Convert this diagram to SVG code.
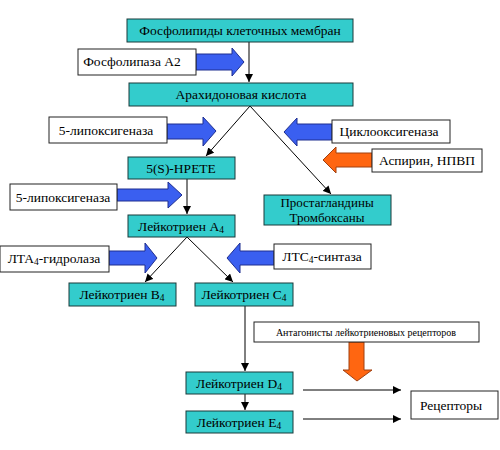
<svg xmlns="http://www.w3.org/2000/svg" width="500" height="450" viewBox="0 0 500 450">
<defs>
<style>
.t{fill:#33cccc;stroke:#1a3a3a;stroke-width:1}
.w{fill:#ffffff;stroke:#222;stroke-width:1}
.sm{font-size:10px}
.ln{stroke:#000;stroke-width:1;fill:none;marker-end:url(#ah)}
.ba{fill:#3a5ff0;stroke:#1f2f90;stroke-width:1}
.oa{fill:#ff6611;stroke:#a04010;stroke-width:1}
</style>
<marker id="ah" viewBox="0 0 10 10" refX="10" refY="5" markerWidth="8" markerHeight="8" markerUnits="userSpaceOnUse" orient="auto">
<path d="M0,0 L10,5 L0,10 z" fill="#000"/>
</marker>
</defs>
<rect width="500" height="450" fill="#fff"/>

<g id="connectors">
<line class="ln" x1="249" y1="42" x2="249" y2="82"/>
<line class="ln" x1="250" y1="106" x2="206" y2="156"/>
<line class="ln" x1="250" y1="106" x2="331" y2="194"/>
<line class="ln" x1="187" y1="179" x2="187" y2="214"/>
<line class="ln" x1="187" y1="237" x2="145" y2="282"/>
<line class="ln" x1="187" y1="237" x2="233" y2="282"/>
<line class="ln" x1="245" y1="306" x2="245" y2="371"/>
<line class="ln" x1="245" y1="394" x2="245" y2="410"/>
<line class="ln" x1="303" y1="390" x2="401" y2="390"/>
<line class="ln" x1="303" y1="419" x2="401" y2="419"/>
</g>

<g id="arrows">
<path class="ba" d="M196,54 H232 V48 L244,62 L232,76 V70 H196 Z"/>
<path class="ba" d="M167,124 H203 V117 L216,131 L203,146 V139 H167 Z"/>
<path class="ba" d="M117,189 H168 V182 L182,195 L168,208 V201 H117 Z"/>
<path class="ba" d="M109,251 H145 V243 L157,258 L145,273 V265 H109 Z"/>
<path class="ba" d="M332,124 H297 V118 L284,132 L297,146 V140 H332 Z"/>
<path class="ba" d="M274,251 H240 V243 L227,258 L240,273 V265 H274 Z"/>
<path class="oa" d="M372,153 H336 V147 L323,160 L336,173 V167 H372 Z"/>
<path class="oa" d="M349,342 H364 V370 H372 L357,381 L343,370 H349 Z"/>
</g>

<g font-family="Liberation Serif, Times New Roman, serif" font-size="13.5" text-anchor="middle" fill="#000">
<g id="n1"><rect class="t" x="127" y="19" width="226" height="23"/><text x="240" y="35">Фосфолипиды клеточных мембран</text></g>
<g id="n2"><rect class="w" x="78" y="49" width="118" height="26"/><text x="132" y="66">Фосфолипаза А2</text></g>
<g id="n3"><rect class="t" x="129" y="83" width="224" height="23"/><text x="241" y="99">Арахидоновая кислота</text></g>
<g id="n4"><rect class="w" x="49" y="117" width="118" height="26"/><text x="106" y="135">5-липоксигеназа</text></g>
<g id="n5"><rect class="w" x="332" y="120" width="118" height="23"/><text x="389" y="136">Циклооксигеназа</text></g>
<g id="n6"><rect class="w" x="372" y="149" width="110" height="23"/><text x="427" y="165">Аспирин, НПВП</text></g>
<g id="n7"><rect class="t" x="128" y="157" width="107" height="22"/><text x="181" y="173">5(S)-HPETE</text></g>
<g id="n8"><rect class="w" x="10" y="184" width="107" height="26"/><text x="63" y="202">5-липоксигеназа</text></g>
<g id="n9"><rect class="t" x="264" y="195" width="127" height="30"/><text x="327" y="207" font-size="13">Простагландины</text><text x="327" y="221.5" font-size="13">Тромбоксаны</text></g>
<g id="n10"><rect class="t" x="128" y="215" width="107" height="22"/><text x="181" y="231">Лейкотриен А<tspan font-size="9.5" dy="2">4</tspan></text></g>
<g id="n11"><rect class="w" x="0" y="246" width="109" height="26"/><text x="54" y="263">ЛТА<tspan font-size="9.5" dy="2">4</tspan><tspan dy="-2">-гидролаза</tspan></text></g>
<g id="n12"><rect class="w" x="274" y="244" width="97" height="25"/><text x="322" y="261">ЛТС<tspan font-size="9.5" dy="2">4</tspan><tspan dy="-2">-синтаза</tspan></text></g>
<g id="n13"><rect class="t" x="69" y="283" width="107" height="23"/><text x="122" y="299">Лейкотриен В<tspan font-size="9.5" dy="2">4</tspan></text></g>
<g id="n14"><rect class="t" x="195" y="283" width="98" height="23"/><text x="244" y="299">Лейкотриен С<tspan font-size="9.5" dy="2">4</tspan></text></g>
<g id="n15"><rect class="w" x="254" y="322" width="225" height="20"/><text class="sm" x="366" y="336">Антагонисты лейкотриеновых рецепторов</text></g>
<g id="n16"><rect class="t" x="186" y="372" width="107" height="22"/><text x="239" y="388">Лейкотриен D<tspan font-size="9.5" dy="2">4</tspan></text></g>
<g id="n17"><rect class="t" x="186" y="411" width="107" height="22"/><text x="239" y="427">Лейкотриен E<tspan font-size="9.5" dy="2">4</tspan></text></g>
<g id="n18"><rect class="w" x="411" y="391" width="87" height="28"/><text x="451" y="410">Рецепторы</text></g>
</g>
</svg>
